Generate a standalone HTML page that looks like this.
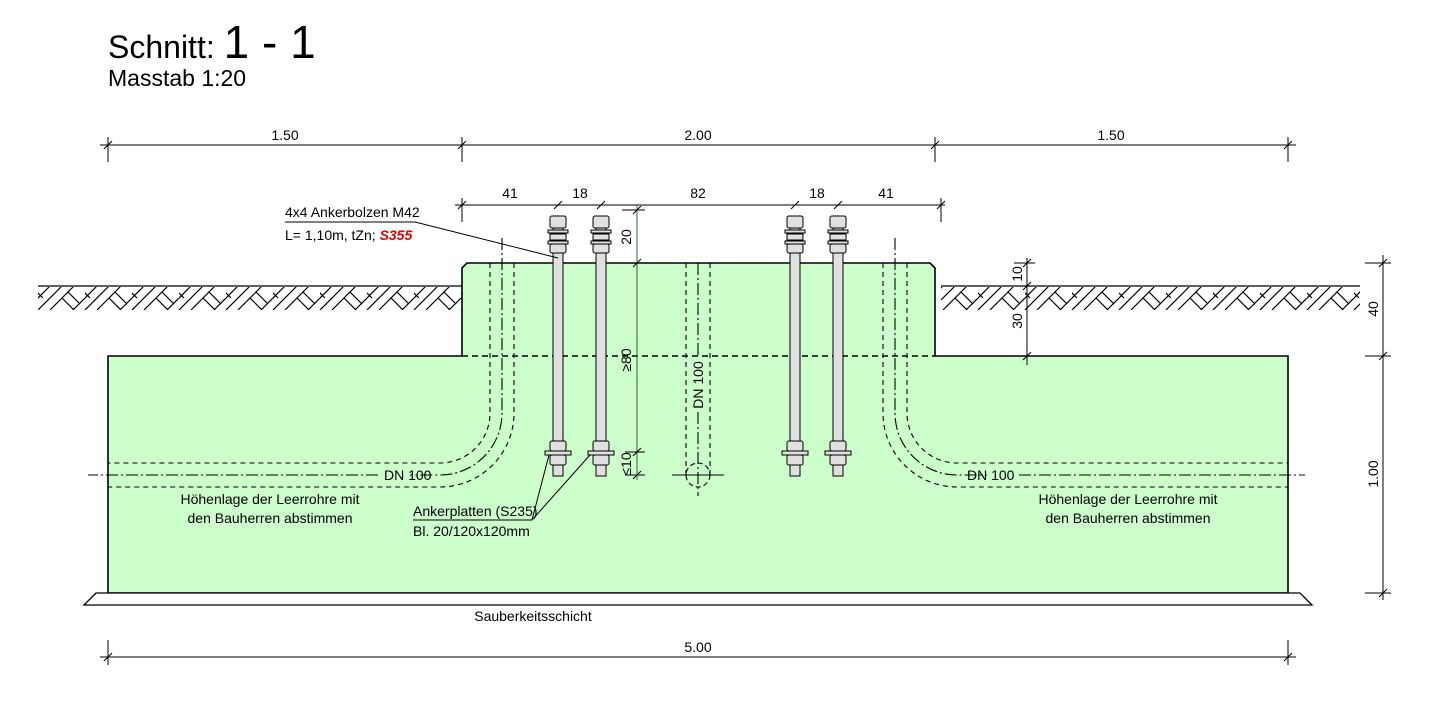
<!DOCTYPE html>
<html><head><meta charset="utf-8"><style>
html,body{margin:0;padding:0;background:#fff;}
svg{display:block;font-family:"Liberation Sans Narrow","Liberation Sans",sans-serif;}
.t{font-family:"Liberation Sans",sans-serif;}
</style></head><body>
<svg width="1432" height="702" viewBox="0 0 1432 702" xmlns="http://www.w3.org/2000/svg">
<defs>
<pattern id="h" x="38" y="286" width="47" height="24" patternUnits="userSpaceOnUse">
<g stroke="#000" stroke-width="1.2" fill="none">
<line x1="0" y1="24" x2="24" y2="0"/>
<line x1="12" y1="24" x2="36" y2="0"/>
<line x1="35" y1="24" x2="47" y2="12"/>
<line x1="-12" y1="24" x2="12" y2="0"/>
<line x1="47" y1="24" x2="71" y2="0"/>
<line x1="30" y1="6" x2="42" y2="18"/>
<line x1="24" y1="12" x2="36" y2="24"/>
<line x1="-1" y1="6" x2="5" y2="12"/>
</g>
</pattern>
</defs>
<text class="t" x="108" y="58" font-size="32">Schnitt: <tspan font-size="46">1 - 1</tspan></text>
<text class="t" x="108" y="86" font-size="23">Masstab 1:20</text>

<rect x="38" y="287" width="424" height="23" fill="url(#h)"/>
<rect x="941" y="287" width="419" height="23" fill="url(#h)"/>
<line x1="38" y1="286" x2="462" y2="286" stroke="#000" stroke-width="1.3"/>
<line x1="941" y1="286" x2="1360" y2="286" stroke="#000" stroke-width="1.3"/>

<path d="M108,593 L108,356 L462,356 L462,268 L467,263 L930,263 L935,268 L935,356 L1288,356 L1288,593 Z" fill="#ccffcc" stroke="#000" stroke-width="1.6"/>
<path d="M96,593 L1300,593 L1312,605 L84,605 Z" fill="#fff" stroke="#000" stroke-width="1.3"/>
<text x="533" y="621" font-size="14" text-anchor="middle">Sauberkeitsschicht</text>
<line x1="462" y1="356" x2="935" y2="356" stroke="#000" stroke-width="1.5" stroke-dasharray="6,4"/>

<g fill="none" stroke="#000" stroke-width="1.1">
<path d="M490,263 L490,413 A50,50 0 0 1 440,463 L108,463" stroke-dasharray="5,4"/>
<path d="M514,263 L514,413 A74,74 0 0 1 440,487 L108,487" stroke-dasharray="5,4"/>
<path d="M502,238 L502,413 A62,62 0 0 1 440,475 L410,475 M378,475 L88,475" stroke-dasharray="12,3,2,3"/>
</g>
<g fill="none" stroke="#000" stroke-width="1.1" transform="translate(1397,0) scale(-1,1)">
<path d="M490,263 L490,413 A50,50 0 0 1 440,463 L109,463" stroke-dasharray="5,4"/>
<path d="M514,263 L514,413 A74,74 0 0 1 440,487 L109,487" stroke-dasharray="5,4"/>
<path d="M502,238 L502,413 A62,62 0 0 1 440,475 L410,475 M378,475 L92,475" stroke-dasharray="12,3,2,3"/>
</g>
<text x="384" y="480" font-size="14">DN 100</text>
<text x="967" y="480" font-size="14">DN 100</text>
<g fill="none" stroke="#000" stroke-width="1.1">
<path d="M686,263 L686,475 M710,263 L710,475" stroke-dasharray="5,4"/>
<circle cx="698" cy="475" r="12" stroke-dasharray="5,3"/>
<line x1="698" y1="263" x2="698" y2="358" stroke-dasharray="12,3,2,3"/>
<line x1="698" y1="412" x2="698" y2="496" stroke-dasharray="12,3,2,3"/>
<line x1="672" y1="475" x2="724" y2="475"/>
</g>
<text transform="translate(703,385) rotate(-90)" font-size="14" text-anchor="middle">DN 100</text>

<text x="270" y="504" font-size="14" text-anchor="middle">Höhenlage der Leerrohre mit</text>
<text x="270" y="523" font-size="14" text-anchor="middle">den Bauherren abstimmen</text>
<text x="1128" y="504" font-size="14" text-anchor="middle">Höhenlage der Leerrohre mit</text>
<text x="1128" y="523" font-size="14" text-anchor="middle">den Bauherren abstimmen</text>

<g id="bolt">
<rect x="553" y="220" width="10" height="256" fill="#e0e0e0" stroke="#000" stroke-width="1"/>
<rect x="550" y="216" width="16" height="12" rx="2" fill="#e0e0e0" stroke="#000"/>
<rect x="548" y="230" width="20" height="3" fill="#e0e0e0" stroke="#000"/>
<rect x="550" y="234" width="16" height="6" fill="#e0e0e0" stroke="#000"/>
<rect x="548" y="241" width="20" height="3" fill="#e0e0e0" stroke="#000"/>
<rect x="550" y="244" width="16" height="9" rx="2" fill="#e0e0e0" stroke="#000"/>
<rect x="550" y="441" width="16" height="10" rx="2" fill="#e0e0e0" stroke="#000"/>
<rect x="545" y="451" width="26" height="4" fill="#e0e0e0" stroke="#000"/>
<rect x="550" y="455" width="16" height="10" rx="2" fill="#e0e0e0" stroke="#000"/>
</g>
<use href="#bolt" transform="translate(43,0)"/>
<use href="#bolt" transform="translate(237,0)"/>
<use href="#bolt" transform="translate(280,0)"/>

<g stroke="#000" stroke-width="1" fill="none">
<path d="M285,222 L415,222 L558,258"/>
<path d="M413,520 L532,520 L549,455 M532,520 L590,455"/>
</g>
<text x="285" y="217" font-size="14">4x4 Ankerbolzen M42</text>
<text x="285" y="240" font-size="14">L= 1,10m, tZn; <tspan fill="#e00000" font-weight="bold" font-style="italic">S355</tspan></text>
<text x="413" y="516" font-size="14">Ankerplatten (S235)</text>
<text x="413" y="536" font-size="14">Bl. 20/120x120mm</text>

<g stroke="#000" stroke-width="1" fill="none">
<line x1="100" y1="145" x2="1296" y2="145"/>
<path d="M108,137 V162 M462,137 V162 M935,137 V162 M1288,137 V162"/>
<path d="M104,149 L112,141 M458,149 L466,141 M931,149 L939,141 M1284,149 L1292,141"/>
<line x1="455" y1="205" x2="945" y2="205"/>
<path d="M462,198 V222 M941,198 V222"/>
<path d="M458,209 L466,201 M554,209 L562,201 M597,209 L605,201 M791,209 L799,201 M834,209 L842,201 M937,209 L945,201"/>
<line x1="637" y1="205" x2="637" y2="480" stroke="#2a6a2a"/>
<path d="M622,210 H645 M625,263 H645 M625,452 H645 M625,475 H645"/>
<path d="M633,214 L641,206 M633,267 L641,259 M633,456 L641,448 M633,479 L641,471"/>
<line x1="1027" y1="258" x2="1027" y2="365"/>
<path d="M1014,263 H1035 M1014,356 H1035 M1023,267 L1031,259 M1023,290 L1031,282 M1023,360 L1031,352"/>
<line x1="1383" y1="255" x2="1383" y2="600"/>
<path d="M1365,263 H1391 M1365,356 H1391 M1365,593 H1391 M1379,267 L1387,259 M1379,360 L1387,352 M1379,597 L1387,589"/>
<line x1="100" y1="657" x2="1296" y2="657"/>
<path d="M108,640 V665 M1288,640 V665 M104,661 L112,653 M1284,661 L1292,653"/>
</g>
<g font-size="14" text-anchor="middle">
<text x="285" y="140">1.50</text>
<text x="698" y="140">2.00</text>
<text x="1111" y="140">1.50</text>
<text x="510" y="198">41</text>
<text x="580" y="198">18</text>
<text x="698" y="198">82</text>
<text x="817" y="198">18</text>
<text x="886" y="198">41</text>
<text x="698" y="652">5.00</text>
<text transform="translate(631,237) rotate(-90)">20</text>
<text transform="translate(631,360) rotate(-90)">≥80</text>
<text transform="translate(631,464) rotate(-90)">≤10</text>
<text transform="translate(1022,274) rotate(-90)">10</text>
<text transform="translate(1022,321) rotate(-90)">30</text>
<text transform="translate(1378,309) rotate(-90)">40</text>
<text transform="translate(1378,474) rotate(-90)">1.00</text>
</g>
</svg>
</body></html>
